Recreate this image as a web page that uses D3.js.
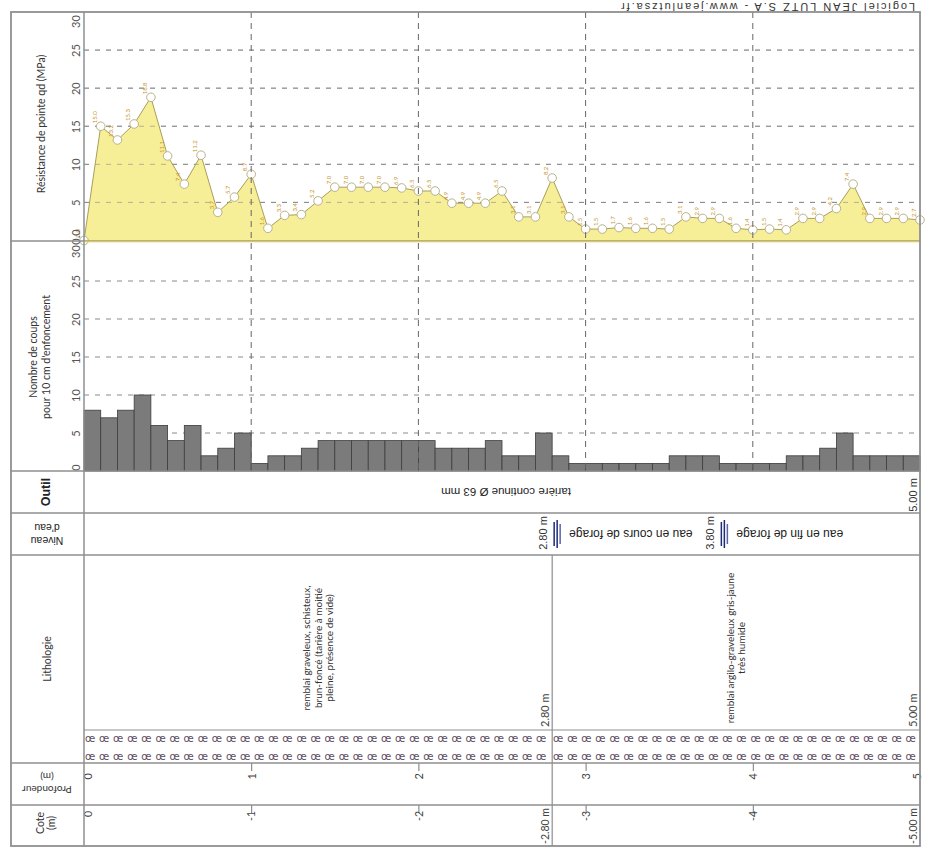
<!DOCTYPE html>
<html>
<head>
<meta charset="utf-8">
<script src="https://cdn.jsdelivr.net/npm/d3@7"></script>
<style>
  body { margin: 0; background: #fff; }
  svg { display: block; font-family: Lato, "Open Sans", sans-serif; }
</style>
</head>
<body>
<div id="chart"></div>
<script>
// ---- data ----
const depthTicks = [0, 1, 2, 3, 4, 5];

const qdDepth = [0.0, 0.1, 0.2, 0.3, 0.4, 0.5, 0.6, 0.7, 0.8, 0.9,
                 1.0, 1.1, 1.2, 1.3, 1.4, 1.5, 1.6, 1.7, 1.8, 1.9,
                 2.0, 2.1, 2.2, 2.3, 2.4, 2.5, 2.6, 2.7, 2.8, 2.9,
                 3.0, 3.1, 3.2, 3.3, 3.4, 3.5, 3.6, 3.7, 3.8, 3.9,
                 4.0, 4.1, 4.2, 4.3, 4.4, 4.5, 4.6, 4.7, 4.8, 4.9, 5.0];
const qdValues = [0.0, 15.0, 13.2, 15.3, 18.8, 11.1, 7.4, 11.2, 3.7, 5.7,
                  8.7, 1.6, 3.3, 3.4, 5.2, 7.0, 7.0, 7.0, 7.0, 6.9,
                  6.5, 6.5, 4.9, 4.9, 4.9, 6.5, 3.1, 3.1, 8.2, 3.1,
                  1.5, 1.5, 1.7, 1.6, 1.6, 1.5, 3.1, 2.9, 2.9, 1.6,
                  1.4, 1.5, 1.4, 2.9, 2.9, 4.2, 7.4, 2.9, 2.9, 2.9, 2.7];

const blowDepth = [0.0, 0.1, 0.2, 0.3, 0.4, 0.5, 0.6, 0.7, 0.8, 0.9,
                   1.0, 1.1, 1.2, 1.3, 1.4, 1.5, 1.6, 1.7, 1.8, 1.9,
                   2.0, 2.1, 2.2, 2.3, 2.4, 2.5, 2.6, 2.7, 2.8, 2.9,
                   3.0, 3.1, 3.2, 3.3, 3.4, 3.5, 3.6, 3.7, 3.8, 3.9,
                   4.0, 4.1, 4.2, 4.3, 4.4, 4.5, 4.6, 4.7, 4.8, 4.9];
const blowCounts = [8, 7, 8, 10, 6, 4, 6, 2, 3, 5,
                    1, 2, 2, 3, 4, 4, 4, 4, 4, 4,
                    4, 3, 3, 3, 4, 2, 2, 5, 2, 1,
                    1, 1, 1, 1, 1, 2, 2, 2, 1, 1,
                    1, 1, 2, 2, 3, 5, 2, 2, 2, 2];

const qdTicks = [0, 5, 10, 15, 20, 25, 30];
const blowTicks = [0, 5, 10, 15, 20, 25, 30];
const gridTicks = [5, 10, 15, 20, 25];

const coteTicks = [0, 1, 2, 2.8, 3, 4, 5];
const coteLabels = ["0", "-1", "-2", "-2.80 m", "-3", "-4", "-5.00 m"];

const waterDepths = [2.8, 3.8];
const waterLabels = ["2.80 m", "3.80 m"];
const waterTexts = ["eau en cours de forage", "eau en fin de forage"];

const layerTops = [0, 2.8];
const layerBottoms = [2.8, 5.0];
const layerLabels = ["2.80 m", "5.00 m"];
const layerTexts = [
  ["remblai graveleux, schisteux,", "brun-foncé (tarière à moitié", "pleine, présence de vide)"],
  ["remblai argilo-graveleux gris-jaune", "très humide"]
];

const toolText = "tarière continue Ø 63 mm";
const toolEnd = "5.00 m";
const credit = "Logiciel JEAN LUTZ S.A - www.jeanlutzsa.fr";

// ---- layout ----
const W = 929, H = 865;
const frameLeft = 11, plotLeft = 84, plotRight = 920, plotTop = 12;
const qdBottom = 241, blowBottom = 471, outilBottom = 513, eauBottom = 555;
const patternTop = 730, lithoBottom = 763, profBottom = 805, coteBottom = 846;

const svg = d3.select("#chart").append("svg")
  .attr("width", W)
  .attr("height", H);

const x = d3.scaleLinear().domain([0, 5]).range([plotLeft, plotRight]);
const yQd = d3.scaleLinear().domain([0, 30]).range([240.5, plotTop]);
const yN = d3.scaleLinear().domain([0, 30]).range([blowBottom, 243]);

const lineColor = "#8f8f8f";
const gridColor = "#8a8a8a";
const arial = "Liberation Sans, Arial, sans-serif";

// rotated multi-line text helper
function rotText(px, py, angle, lines, o) {
  const t = svg.append("text")
    .attr("transform", "translate(" + px + "," + py + ") rotate(" + angle + ")")
    .attr("text-anchor", o.anchor || "middle")
    .attr("fill", o.fill || "#333")
    .style("font-size", o.size + "px")
    .style("font-family", o.family || null)
    .style("font-weight", o.weight || null);
  const lh = (o.lh || 1.15) * o.size;
  const n = lines.length;
  lines.forEach((l, i) => {
    const ts = t.append("tspan")
      .attr("x", 0)
      .attr("y", (i - (n - 1) / 2) * lh)
      .attr("dy", "0.35em")
      .text(l);
    if (o.length) ts.attr("textLength", o.length).attr("lengthAdjust", "spacing");
  });
  return t;
}

// ---- qd chart ----
const qdData = qdDepth.map((d, i) => ({depth: d, v: qdValues[i]}));

svg.append("g").selectAll("line")
  .data(gridTicks)
  .enter().append("line")
  .attr("x1", plotLeft).attr("x2", plotRight)
  .attr("y1", d => yQd(d)).attr("y2", d => yQd(d))
  .attr("stroke", gridColor).attr("stroke-dasharray", "5,6");

svg.append("path")
  .datum(qdData)
  .attr("fill", "#f7ee98")
  .attr("d", d3.area().x(d => x(d.depth)).y0(yQd(0)).y1(d => yQd(d.v)));

// dashed grid shows faintly through the area
svg.append("g").selectAll("line")
  .data(gridTicks)
  .enter().append("line")
  .attr("x1", plotLeft).attr("x2", plotRight)
  .attr("y1", d => yQd(d)).attr("y2", d => yQd(d))
  .attr("stroke", gridColor).attr("stroke-opacity", 0.6).attr("stroke-dasharray", "5,6");

svg.append("path")
  .datum(qdData)
  .attr("fill", "none")
  .attr("stroke", "#a99f5a")
  .attr("stroke-width", 1)
  .attr("d", d3.line().x(d => x(d.depth)).y(d => yQd(d.v)));

svg.append("g").selectAll("circle")
  .data(qdData)
  .enter().append("circle")
  .attr("cx", d => x(d.depth))
  .attr("cy", d => yQd(d.v))
  .attr("r", 4.3)
  .attr("fill", "#fff")
  .attr("stroke", "#b9b28a")
  .attr("stroke-width", 1);

svg.append("g").selectAll("text")
  .data(qdData)
  .enter().append("text")
  .attr("transform", d => "translate(" + (x(d.depth) - 4) + "," + (yQd(d.v) - 3) + ") rotate(-90)")
  .attr("fill", "#c8952e")
  .style("font-size", "6px")
  .text(d => d.v.toFixed(1));

const axQd = svg.append("g")
  .attr("transform", "translate(" + plotLeft + ",0)")
  .call(d3.axisLeft(yQd).tickValues(qdTicks).tickSize(0).tickFormat(d => d === 0 ? "0.0" : d));
axQd.select(".domain").remove();
axQd.selectAll("text")
  .attr("x", null).attr("dy", null)
  .attr("text-anchor", "middle")
  .attr("fill", "#555")
  .style("font-size", "11px")
  .style("font-family", "Lato, sans-serif")
  .attr("transform", d => "translate(-4," + (d === 30 ? 9 : d === 0 ? -4 : 0) + ") rotate(-90)");

// ---- blow count chart ----
svg.append("g").selectAll("line")
  .data(gridTicks)
  .enter().append("line")
  .attr("x1", plotLeft).attr("x2", plotRight)
  .attr("y1", d => yN(d)).attr("y2", d => yN(d))
  .attr("stroke", gridColor).attr("stroke-dasharray", "5,6");

const barW = x(0.1) - x(0);
svg.append("g").selectAll("rect")
  .data(blowDepth.map((d, i) => ({depth: d, n: blowCounts[i]})))
  .enter().append("rect")
  .attr("x", d => x(d.depth))
  .attr("y", d => yN(d.n))
  .attr("width", barW)
  .attr("height", d => yN(0) - yN(d.n))
  .attr("fill", "#7b7b7b")
  .attr("stroke", "#3d3d3d")
  .attr("stroke-width", 0.8);

const axN = svg.append("g")
  .attr("transform", "translate(" + plotLeft + ",0)")
  .call(d3.axisLeft(yN).tickValues(blowTicks).tickSize(0));
axN.select(".domain").remove();
axN.selectAll("text")
  .attr("x", null).attr("dy", null)
  .attr("text-anchor", "middle")
  .attr("fill", "#555")
  .style("font-size", "11px")
  .style("font-family", "Lato, sans-serif")
  .attr("transform", d => "translate(-4," + (d === 30 ? 8 : d === 0 ? -4 : 0) + ") rotate(-90)");

// vertical grid in both charts
svg.append("g").selectAll("line")
  .data([1, 2, 3, 4])
  .enter().append("line")
  .attr("x1", d => x(d)).attr("x2", d => x(d))
  .attr("y1", plotTop).attr("y2", blowBottom)
  .attr("stroke", "#666").attr("stroke-dasharray", "6,5");

// ---- outil band ----
rotText(506, 492, 180, [toolText], {size: 11.5, family: arial, fill: "#222"});
rotText(x(5) - 7, 495, -90, [toolEnd], {size: 11, family: arial, fill: "#333"});

// ---- water levels ----
waterDepths.forEach((d, i) => {
  const wx = x(d);
  rotText(wx - 9, 533, -90, [waterLabels[i]], {size: 11, family: arial, fill: "#333"});
  [[2, 522, 546], [5, 520, 548], [8, 524, 544]].forEach(s => {
    svg.append("line")
      .attr("x1", wx + s[0]).attr("x2", wx + s[0])
      .attr("y1", s[1]).attr("y2", s[2])
      .attr("stroke", s[0] === 8 ? "#5a66a8" : "#1c2a7a")
      .attr("stroke-width", 1.5);
  });
  rotText(wx + 17, 534, 180, [waterTexts[i]], {anchor: "end", size: 12, family: arial, fill: "#222"});
});

// ---- lithology ----
layerTops.forEach((t, i) => {
  const cx = (x(t) + x(layerBottoms[i])) / 2;
  rotText(cx, 648, -90, layerTexts[i], {size: 10, fill: "#333", lh: 1.15});
  rotText(x(layerBottoms[i]) - 7, 727, -90, [layerLabels[i]], {anchor: "start", size: 11, fill: "#444"});
  const syms = d3.range(x(t) + 6, x(layerBottoms[i]) - 2, 14.1);
  [738, 756].forEach(sy => {
    svg.append("g").selectAll("text")
      .data(syms)
      .enter().append("text")
      .attr("x", d => d)
      .attr("y", sy)
      .attr("dy", "0.35em")
      .attr("text-anchor", "middle")
      .attr("fill", "#5e4e64")
      .style("font-size", "10px")
      .style("font-family", "DejaVu Sans, sans-serif")
      .text("œ");
  });
});

// boundaries between layers
svg.append("g").selectAll("line")
  .data(layerBottoms.slice(0, -1))
  .enter().append("line")
  .attr("x1", d => x(d)).attr("x2", d => x(d))
  .attr("y1", eauBottom).attr("y2", coteBottom)
  .attr("stroke", "#777").attr("stroke-width", 1);

// ---- depth axes ----
const axProf = svg.append("g")
  .attr("transform", "translate(0," + lithoBottom + ")")
  .call(d3.axisBottom(x).tickValues(depthTicks).tickSize(8).tickFormat(d3.format("d")));
axProf.select(".domain").remove();
axProf.selectAll(".tick line").attr("stroke", "#777").attr("opacity", d => (d === 0 || d === 5) ? 0 : 1);
axProf.selectAll("text")
  .attr("y", null)
  .attr("text-anchor", "end")
  .attr("fill", "#444")
  .style("font-size", "11px")
  .style("font-family", "Lato, sans-serif")
  .attr("transform", d => "translate(" + (d === 0 ? 4 : d === 5 ? -3 : 0) + ",10) rotate(-90)")
  .attr("dy", "0.35em");

const axCote = svg.append("g")
  .attr("transform", "translate(0," + profBottom + ")")
  .call(d3.axisBottom(x).tickValues(coteTicks).tickSize(8).tickFormat((d, i) => coteLabels[i]));
axCote.select(".domain").remove();
axCote.selectAll(".tick line").attr("stroke", "#777").attr("opacity", d => (d === 0 || d === 5 || d === 2.8) ? 0 : 1);
axCote.selectAll("text")
  .attr("y", null)
  .attr("text-anchor", "end")
  .attr("fill", "#444")
  .style("font-size", "10.5px")
  .style("font-family", "Lato, sans-serif")
  .attr("transform", d => "translate(" + (d === 0 ? 4 : d === 5 ? -7 : d === 2.8 ? -7 : 0) + "," + (d === 2.8 || d === 5 ? 3 : 6) + ") rotate(-90)")
  .attr("dy", "0.35em");

// ---- left column labels ----
rotText(41, 124, -90, ["Résistance de pointe qd (MPa)"], {size: 10.5, fill: "#333"});
rotText(40, 357, -90, ["Nombre de coups", "pour 10 cm d'enfoncement"], {size: 10.5, fill: "#333", lh: 1.25});
rotText(46, 492, -90, ["Outil"], {size: 12.5, weight: "bold", family: arial, fill: "#222"});
rotText(47, 534, 180, ["Niveau", "d'eau"], {size: 10.5, family: arial, fill: "#222", lh: 1.2});
rotText(47, 659, -90, ["Lithologie"], {size: 10.5, fill: "#333"});
rotText(47, 783, 180, ["Profondeur", "(m)"], {size: 10, fill: "#333", lh: 1.35});
rotText(46, 823, -90, ["Cote", "(m)"], {size: 10.5, fill: "#333", lh: 1.1});

// ---- frame and band separators ----
const seps = [blowBottom, outilBottom, eauBottom, lithoBottom, profBottom];
svg.append("g").selectAll("line")
  .data(seps)
  .enter().append("line")
  .attr("x1", frameLeft).attr("x2", plotRight)
  .attr("y1", d => d).attr("y2", d => d)
  .attr("stroke", lineColor).attr("stroke-width", 1.5);

svg.append("line")
  .attr("x1", frameLeft).attr("x2", plotRight)
  .attr("y1", qdBottom).attr("y2", qdBottom)
  .attr("stroke", lineColor).attr("stroke-width", 1.5);
svg.append("line")
  .attr("x1", plotLeft).attr("x2", plotRight)
  .attr("y1", qdBottom + 0.5).attr("y2", qdBottom + 0.5)
  .attr("stroke", "#d9c95a").attr("stroke-width", 1.6);

svg.append("line")
  .attr("x1", plotLeft).attr("x2", plotRight)
  .attr("y1", patternTop).attr("y2", patternTop)
  .attr("stroke", lineColor).attr("stroke-width", 1);

svg.append("line")
  .attr("x1", plotLeft).attr("x2", plotLeft)
  .attr("y1", plotTop).attr("y2", coteBottom)
  .attr("stroke", lineColor).attr("stroke-width", 1.5);

svg.append("rect")
  .attr("x", frameLeft).attr("y", plotTop)
  .attr("width", plotRight - frameLeft).attr("height", coteBottom - plotTop)
  .attr("fill", "none")
  .attr("stroke", lineColor).attr("stroke-width", 1.8);

rotText(768, 6.5, 180, [credit], {size: 11, family: arial, fill: "#333", length: 294});
</script>
</body>
</html>
